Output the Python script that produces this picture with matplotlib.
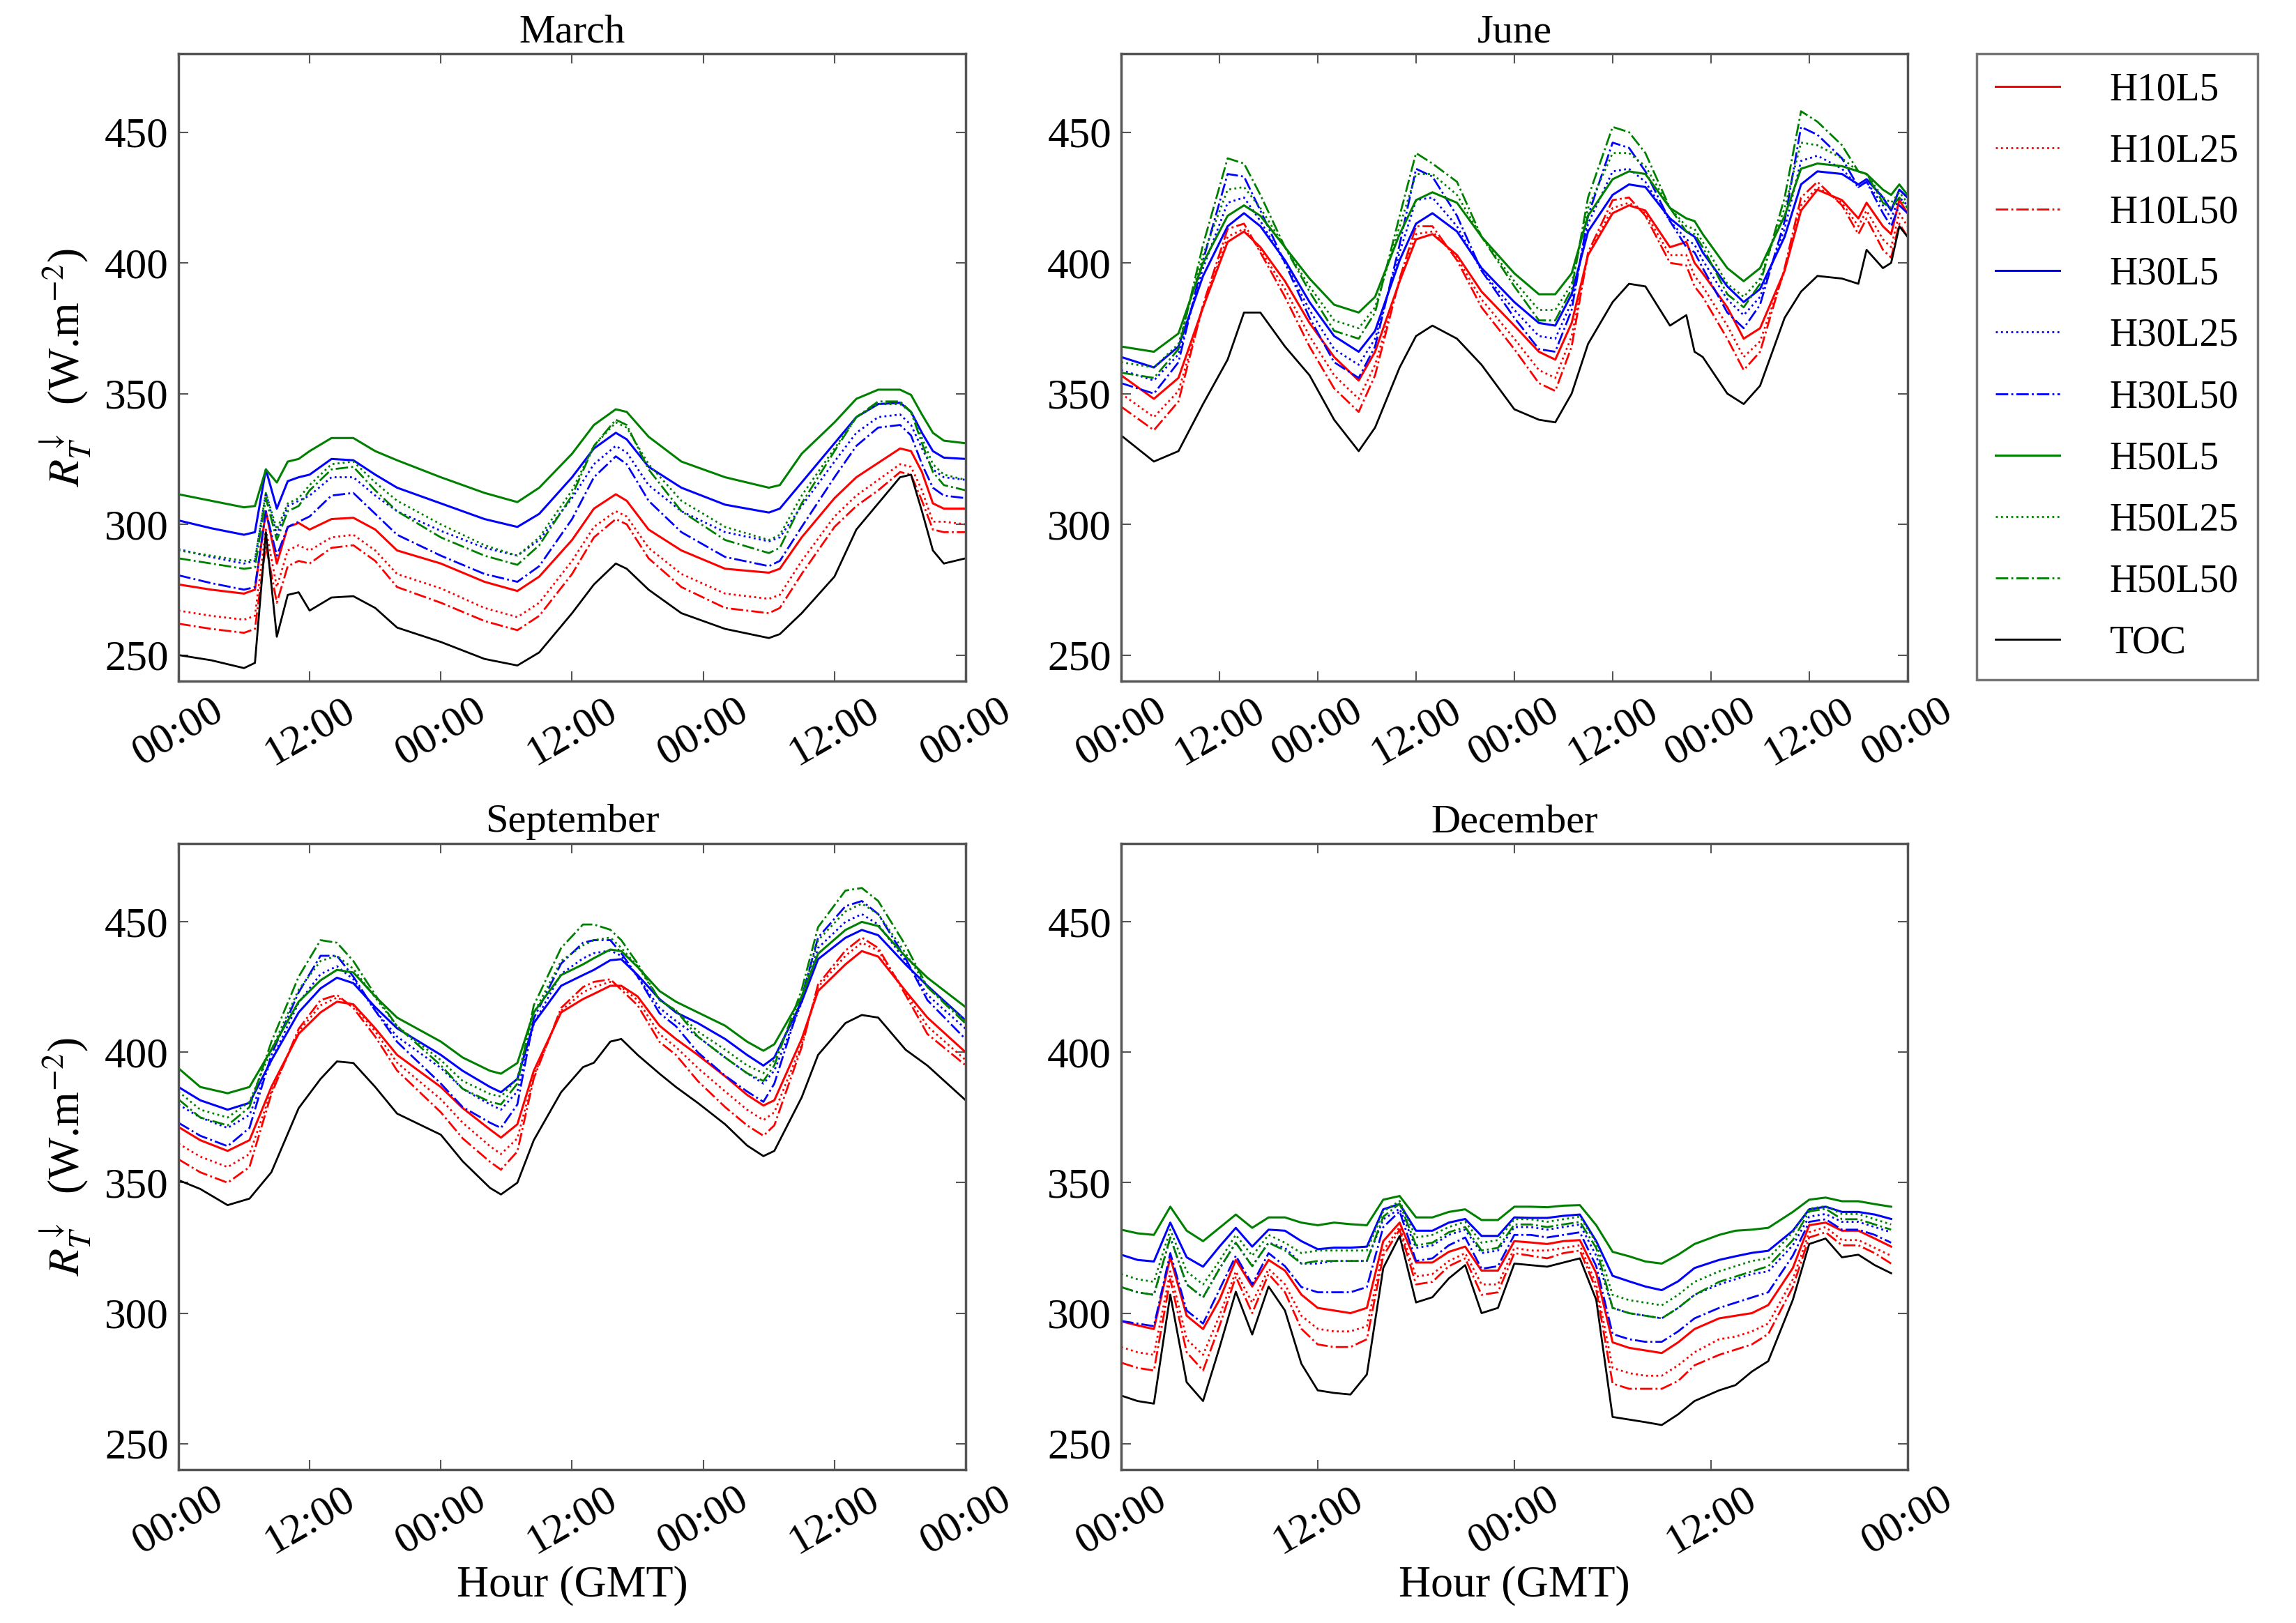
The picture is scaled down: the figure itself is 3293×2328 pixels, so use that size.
import numpy as np
import matplotlib
matplotlib.use("Agg")
import matplotlib.pyplot as plt

plt.rcParams['font.family'] = ['Liberation Serif', 'DejaVu Serif']
plt.rcParams['mathtext.fontset'] = 'stix'

# ---- data (hours since start, W/m2) ----
series_names = ['H10L5', 'H10L25', 'H10L50', 'H30L5', 'H30L25', 'H30L50',
                'H50L5', 'H50L25', 'H50L50', 'TOC']

mar_hours = [0, 3, 6, 7, 8, 9, 10, 11, 12, 14, 16, 18, 20, 24, 28, 31, 33, 36, 38, 40,
             41, 43, 46, 50, 54, 55, 57, 60, 62, 64, 66, 67, 68, 69, 70, 72]
mar_toc = [250, 248, 245, 247, 297, 257, 273, 274, 267, 272, 272.5, 268, 260.5, 255, 248.5, 246, 251, 266, 277, 285,
           283, 275, 266, 260, 256.5, 258, 266, 280, 298, 308, 318, 319, 305, 290, 285, 287]
mar_h10l5 = [277, 275, 273.5, 275, 305, 285, 299, 300.5, 298, 302, 302.5, 298, 290, 285, 278, 274.5, 280, 294, 306, 311.5,
             309, 298, 290, 283, 281.5, 283, 295, 310, 318, 323.5, 329, 328, 320, 308, 306, 306]
mar_h10l25 = [267, 265, 263.5, 265, 298, 276, 290, 292, 290, 295, 296, 290, 281, 275.5, 268, 264.5, 270, 286, 299, 305,
              303, 291, 281, 273.5, 271.5, 273, 286, 303, 311, 317, 323, 322, 313, 301, 301, 300]
mar_h10l50 = [262, 260, 258.5, 260, 292, 270, 284, 286, 285, 291, 292, 286, 276, 270, 263, 259.5, 265, 281, 295, 302,
              300, 287, 276, 268, 266, 268, 281, 299, 307, 313, 320, 319, 309, 298, 297, 297]
mar_h30l5 = [301.5, 298.5, 296, 297, 321, 306, 316.5, 318, 319, 325, 324.5, 319, 314, 308, 302, 299, 304, 318, 329, 335,
             332.5, 322, 314, 307.5, 304.5, 306, 316, 331, 341, 346, 346.5, 343, 335, 328, 325.5, 325]
mar_h30l25 = [290.5, 287.5, 285, 286, 312, 296, 307, 309, 311, 318, 318, 311, 305, 297.5, 291, 288, 294, 310, 323, 330,
              327.5, 315, 305, 297, 293.5, 295, 307, 324, 335, 341, 342, 338, 329, 321, 318, 317]
mar_h30l50 = [280.5, 277.5, 275, 276, 305, 288, 299, 301, 303, 311, 312, 304, 296, 288, 281, 278, 284, 302, 318, 326,
              323, 309, 297, 287.5, 284, 286, 299, 318, 330, 337, 338, 334, 323, 314, 311, 310]
mar_h50l5 = [311.5, 309, 306.5, 307, 321, 316, 324, 325, 328, 333, 333, 328, 324.5, 318, 312, 308.5, 314, 327, 338, 344,
             343, 333.5, 324, 318, 314, 315, 327, 339, 348, 351.5, 351.5, 349.5, 342, 335, 332, 331]
mar_h50l25 = [290, 288, 286, 286.5, 312, 298, 308, 310, 315, 323, 324, 316, 309, 300, 292, 288, 295, 313, 330, 339,
              337, 323, 309, 299, 294, 296, 311, 329, 341, 346, 346, 343, 333, 323, 319, 317]
mar_h50l50 = [287, 285, 283, 283.5, 310, 294, 305, 307, 313, 321, 322, 313, 305, 295, 288, 284.5, 292, 311, 330, 340,
              338, 321, 305, 294, 289, 291, 308, 328, 341, 347, 347, 343, 331, 320, 315, 313]

jun_hours = [0, 4, 7, 10, 13, 15, 17, 20, 23, 26, 29, 31, 34, 36, 38, 41, 44, 48, 51, 53,
             55, 57, 60, 62, 64, 67, 69, 70, 71, 74, 76, 78, 81, 83, 85, 88, 90, 91, 93, 94, 95, 96]
jun_toc = [334, 324, 328, 346, 363, 381, 381, 368, 357, 340, 328, 337, 360, 372, 376, 371, 361, 344, 340, 339,
           350, 369, 385, 392, 391, 376, 380, 366, 364, 350, 346, 353, 379, 389, 395, 394, 392, 405, 398, 400, 414, 410]
jun_h10l5 = [357, 348, 356, 383, 408, 412, 406, 393, 377, 364, 355, 366, 393, 409, 411, 403, 389, 376, 366, 363,
             377, 403, 419, 422, 420, 406, 408, 400, 396, 383, 371, 375, 397, 420, 428, 424, 417, 423, 414, 411, 424, 419]
jun_h10l25 = [350, 341, 351, 383, 410, 413, 405, 390, 372, 357, 348, 361, 393, 411, 412, 402, 386, 371, 359, 356,
              372, 403, 421, 423, 419, 403, 403, 395, 391, 376, 364, 370, 397, 422, 429, 423, 414, 420, 409, 406, 419, 414]
jun_h10l50 = [345, 336, 347, 384, 413, 415, 404, 387, 368, 352, 343, 357, 394, 414, 414, 401, 383, 367, 354, 351,
              368, 404, 424, 425, 418, 400, 399, 391, 387, 371, 359, 366, 398, 425, 431, 422, 411, 417, 405, 402, 415, 410]
jun_h30l5 = [364, 360, 368, 395, 414, 419, 414, 401, 385, 372, 366, 374, 401, 415, 419, 412, 398, 385, 377, 376,
             388, 412, 426, 430, 429, 417, 412, 410, 404, 391, 385, 390, 410, 430, 435, 434, 430, 432, 425, 420, 428, 425]
jun_h30l25 = [359, 355, 365, 398, 423, 425, 416, 400, 382, 367, 361, 371, 404, 424, 425, 414, 397, 382, 372, 371,
              385, 415, 435, 436, 431, 416, 409, 407, 401, 386, 380, 387, 413, 439, 441, 436, 429, 431, 422, 417, 425, 422]
jun_h30l50 = [354, 350, 362, 401, 434, 433, 420, 400, 379, 362, 356, 368, 407, 436, 433, 418, 397, 379, 367, 366,
              382, 418, 446, 444, 435, 416, 406, 404, 398, 381, 375, 384, 416, 452, 449, 440, 429, 431, 419, 414, 422, 419]
jun_h50l5 = [368, 366, 373, 400, 418, 422, 418, 406, 394, 384, 381, 387, 411, 424, 427, 423, 410, 396, 388, 388,
             396, 418, 432, 435, 434, 421, 417, 416, 411, 398, 393, 398, 418, 436, 438, 437, 435, 434, 428, 426, 430, 426]
jun_h50l25 = [362, 360, 369, 403, 428, 429, 421, 406, 391, 378, 375, 383, 414, 434, 434, 426, 410, 393, 382, 382,
              392, 421, 442, 442, 437, 421, 414, 413, 408, 392, 387, 394, 421, 446, 445, 440, 435, 434, 425, 423, 427, 423]
jun_h50l50 = [358, 356, 367, 407, 440, 438, 426, 406, 389, 374, 371, 381, 418, 442, 438, 431, 410, 391, 378, 378,
              390, 425, 452, 450, 442, 421, 412, 411, 406, 388, 383, 392, 425, 458, 454, 445, 435, 434, 423, 421, 425, 421]

sep_hours = [0, 2, 4.5, 6.5, 8.5, 11, 13, 14.5, 16, 18, 20, 24, 26, 28.5, 29.5, 31, 32.5, 35, 37, 38,
             39.5, 40.5, 42, 44, 45.5, 47.5, 50, 52, 53.5, 54.5, 57, 58.5, 61, 62.5, 64, 66.5, 68.5, 72]
sep_toc = [351, 347.6, 341.4, 343.9, 354, 378.6, 389.8, 396.5, 395.9, 386.7, 376.5, 368.4, 358.2, 348, 345.5, 350, 366.3, 384.7, 394.3, 396,
           404.1, 405.1, 399, 391.8, 386.7, 380.6, 372.4, 364.3, 360.2, 362.2, 382.7, 399, 411.2, 414.3, 413.3, 401, 394.9, 381.6]
sep_h10l5 = [371.4, 366.3, 362.2, 366.3, 386.7, 407.1, 415.3, 419.4, 418.4, 409.2, 399, 386.7, 378.6, 370.4, 367.3, 372.4, 392.9, 415.3, 420.4, 422.4,
             425.5, 425.5, 421.4, 410.2, 405.1, 399, 390.8, 383.7, 379.6, 381.6, 405.1, 423.5, 433.7, 438.8, 436.7, 423.5, 413.3, 400]
sep_h10l25 = [365, 360, 356, 361, 385, 408, 418, 421, 418, 408, 396, 382, 373, 364, 361, 367, 391, 416, 423, 425,
              427, 425, 420, 407, 402, 394, 385, 378, 374, 377, 403, 425, 437, 442, 439, 423, 410, 397]
sep_h10l50 = [359, 354, 350, 356, 384, 409, 420, 422, 417, 406, 393, 377, 367, 358, 355, 362, 390, 417, 425, 427,
              428, 424, 418, 404, 399, 389, 379, 372, 368, 372, 402, 426, 439, 444, 440, 422, 407, 395]
sep_h30l5 = [386.7, 381.6, 378, 380.6, 396.9, 415.3, 424.5, 428.6, 426.5, 417.3, 409.2, 399, 392.9, 386.7, 384.7, 389.8, 411.2, 425.5, 429.6, 431.6,
             435.3, 435.7, 429.6, 420.4, 415.3, 411.2, 405.1, 399, 394.9, 398, 419.4, 435.7, 443.9, 446.9, 444.9, 433.7, 425.5, 412.2]
sep_h30l25 = [380, 375, 371, 376, 397, 419, 430, 433, 428, 416, 406, 394, 386, 380, 378, 385, 411, 430, 436, 438,
              439, 437, 429, 417, 412, 406, 398, 392, 388, 393, 419, 440, 450, 453, 449, 435, 422, 409]
sep_h30l50 = [373, 368, 364, 371, 399, 423, 437, 437, 429, 416, 404, 388, 379, 373, 371, 380, 413, 434, 442, 443,
              443, 438, 429, 415, 410, 400, 391, 385, 381, 388, 421, 444, 456, 458, 453, 436, 420, 405]
sep_h50l5 = [393.9, 386.7, 384.3, 386.7, 401, 419.4, 427.6, 431.6, 430.6, 421.4, 413.3, 404.1, 398, 392.9, 391.8, 395.9, 415.3, 429.6, 433.7, 436.1,
             439.4, 438.8, 432.7, 423.5, 419.4, 415.3, 410.2, 404.1, 400.6, 403.1, 421.4, 437.8, 446.9, 450, 448.4, 436.7, 428.6, 417.3]
sep_h50l25 = [385, 378, 375, 381, 401, 424, 435, 437, 432, 421, 410, 397, 389, 384, 383, 390, 415, 435, 441, 443,
              444, 440, 433, 420, 416, 408, 401, 395, 392, 397, 421, 443, 454, 457, 453, 438, 425, 412]
sep_h50l50 = [382, 375, 372, 379, 404, 429, 443, 442, 435, 422, 410, 395, 386, 381, 380, 388, 418, 440, 449, 449,
              447, 443, 434, 420, 416, 406, 398, 392, 389, 395, 424, 448, 462, 463, 458, 441, 425, 411]

dec_hours = [0, 1, 2, 3, 4, 5, 6, 7, 8, 9, 10, 11, 12, 13, 14, 15, 16, 17, 18, 19,
             20, 21, 22, 23, 24, 25, 26, 27, 28, 29, 30, 31, 32, 33, 34, 35, 36.5, 37.5, 38.5, 39.5,
             41, 42, 43, 44, 45, 46, 47]
dec_toc = [268.4, 266.3, 265.3, 307.1, 273.5, 266.3, 286.7, 308.2, 291.8, 310.2, 301, 280.6, 270.4, 269.4, 268.8, 276.5, 317.3, 329.6, 304.1, 306.1,
           313.3, 318.4, 300, 302, 319, 318.4, 317.8, 319.4, 321, 305.1, 260.2, 259.2, 258.2, 257.1, 261.2, 266.3, 270.4, 272.4, 277.6, 281.6,
           305.1, 326.5, 328.6, 321.4, 322.4, 318.4, 315.3]
dec_h10l5 = [296.9, 295.3, 293.9, 321.4, 299, 293.9, 305.1, 320.4, 310.2, 320.4, 316.3, 307.1, 302, 301, 300, 302, 327.6, 334.7, 319.4, 319.4,
             323.5, 325.5, 316.3, 316.3, 327.6, 327.1, 326.5, 327.6, 328, 315.3, 288.8, 286.7, 285.7, 284.7, 288.8, 293.9, 298, 299, 300, 303.1,
             317.3, 333.7, 334.7, 331.6, 331.6, 328.6, 325.5]
dec_h10l25 = [287, 285, 284, 316, 290, 284, 299, 316, 304, 317, 311, 299, 294, 293, 293, 295, 324, 333, 314, 315,
              320, 323, 311, 311, 325, 324, 324, 325, 326, 311, 279, 277, 276, 276, 280, 285, 290, 291, 293, 296,
              313, 331, 333, 328, 328, 325, 322]
dec_h10l50 = [281, 279, 278, 313, 285, 278, 295, 314, 300, 315, 308, 294, 288, 287, 287, 290, 322, 332, 311, 312,
              318, 321, 307, 308, 323, 322, 321, 323, 324, 309, 273, 271, 271, 271, 274, 280, 284, 286, 288, 292,
              310, 329, 331, 326, 326, 323, 319]
dec_h30l5 = [322.4, 320.4, 319.8, 334.7, 321.4, 317.8, 325.5, 332.7, 325.5, 332, 331.6, 327.6, 324.5, 325.1, 325.1, 325.5, 339.8, 341.8, 331.6, 331.6,
             334.7, 336.1, 329.6, 329.6, 336.7, 336.5, 336.5, 337.3, 337.8, 327.6, 314.3, 312.2, 310.2, 308.8, 312.2, 317.3, 320.4, 321.8, 323.1, 323.9,
             331.6, 339.8, 340.8, 338.8, 338.8, 337.8, 336.1]
dec_h30l25 = [310, 308, 307, 329, 311, 306, 317, 327, 318, 327, 325, 319, 319, 320, 320, 320, 336, 340, 325, 326,
              330, 332, 323, 324, 333, 333, 332, 333, 334, 322, 302, 300, 299, 298, 302, 307, 311, 313, 315, 316,
              326, 337, 338, 335, 335, 333, 331]
dec_h30l50 = [297, 296, 295, 323, 301, 296, 309, 322, 311, 323, 318, 310, 308, 308, 308, 310, 333, 339, 320, 321,
              326, 329, 317, 318, 330, 330, 329, 330, 331, 318, 292, 290, 289, 289, 293, 298, 302, 304, 306, 308,
              322, 335, 336, 332, 332, 330, 327]
dec_h50l5 = [332, 330.6, 330, 340.8, 331.6, 327.6, 332.7, 337.8, 332.7, 336.7, 336.7, 334.7, 333.7, 334.7, 334.1, 333.7, 343.5, 344.9, 336.7, 336.7,
             338.8, 339.8, 335.7, 335.7, 340.8, 340.8, 340.6, 341.2, 341.4, 333.7, 323.5, 321.8, 319.8, 319, 322.4, 326.5, 330, 331.6, 332, 332.7,
             338.8, 343.5, 344.3, 342.9, 342.9, 341.8, 340.8]
dec_h50l25 = [315, 313, 312, 332, 316, 311, 320, 330, 322, 330, 327, 323, 324, 324, 324, 324, 339, 343, 329, 330,
              333, 335, 327, 328, 336, 336, 335, 336, 337, 327, 307, 305, 304, 303, 307, 312, 316, 318, 320, 321,
              331, 340, 341, 338, 338, 336, 334]
dec_h50l50 = [310, 308, 307, 329, 311, 306, 317, 327, 318, 327, 324, 319, 320, 320, 320, 320, 337, 342, 326, 327,
              331, 333, 324, 325, 334, 334, 333, 334, 335, 325, 302, 300, 299, 298, 302, 307, 312, 314, 316, 318,
              328, 339, 340, 336, 336, 334, 332]

# style for each series (same order as series_names)
colors = ['r', 'r', 'r', 'b', 'b', 'b', (0, 0.5, 0), (0, 0.5, 0), (0, 0.5, 0), 'k']
styles = ['-', ':', '-.', '-', ':', '-.', '-', ':', '-.', '-']
widths = [2.2, 2.0, 2.0, 2.2, 2.0, 2.0, 2.2, 2.0, 2.0, 2.0]

panels = [
    ('March', mar_hours, 3, [mar_h10l5, mar_h10l25, mar_h10l50, mar_h30l5, mar_h30l25,
                             mar_h30l50, mar_h50l5, mar_h50l25, mar_h50l50, mar_toc]),
    ('June', jun_hours, 4, [jun_h10l5, jun_h10l25, jun_h10l50, jun_h30l5, jun_h30l25,
                            jun_h30l50, jun_h50l5, jun_h50l25, jun_h50l50, jun_toc]),
    ('September', sep_hours, 3, [sep_h10l5, sep_h10l25, sep_h10l50, sep_h30l5, sep_h30l25,
                                 sep_h30l50, sep_h50l5, sep_h50l25, sep_h50l50, sep_toc]),
    ('December', dec_hours, 2, [dec_h10l5, dec_h10l25, dec_h10l50, dec_h30l5, dec_h30l25,
                                dec_h30l50, dec_h50l5, dec_h50l25, dec_h50l50, dec_toc]),
]

# axes rectangles in figure fractions [left, bottom, width, height]
rects = [
    [0.0777, 0.5803, 0.3429, 0.3866],
    [0.4883, 0.5803, 0.3425, 0.3866],
    [0.0777, 0.0945, 0.3429, 0.3857],
    [0.4883, 0.0945, 0.3425, 0.3857],
]

fig = plt.figure(figsize=(32.93, 23.28), dpi=100)
frame_col = '#555555'
handles = []

for i, (title, hours, ndays, data) in enumerate(panels):
    ax = fig.add_axes(rects[i])
    for j, vals in enumerate(data):
        ln, = ax.plot(hours, vals, color=colors[j], linestyle=styles[j],
                      linewidth=widths[j], label=series_names[j])
        if i == 0:
            handles.append(ln)
    ax.set_xlim(0, 24 * ndays)
    ax.set_ylim(240, 480)
    ax.set_yticks([250, 300, 350, 400, 450])
    ticks = np.arange(0, 24 * ndays + 1, 12)
    ax.set_xticks(ticks)
    ax.set_xticklabels(['00:00' if t % 24 == 0 else '12:00' for t in ticks],
                       rotation=30, ha='center')
    ax.tick_params(direction='in', top=True, right=True, length=10, width=1.5,
                   color=frame_col, labelsize=44, pad=10)
    for sp in ax.spines.values():
        sp.set_color(frame_col)
        sp.set_linewidth(2.5)
    ax.set_title(title, fontsize=42, pad=12)
    if i % 2 == 0:
        ax.set_ylabel(r'$R_T^{\downarrow}$  (W.m$^{-2}$)', fontsize=46, labelpad=12)
    if i >= 2:
        ax.set_xlabel('Hour (GMT)', fontsize=46, labelpad=4)

leg = fig.legend(handles, series_names, loc='upper left', bbox_to_anchor=(0.861, 0.967),
                 borderaxespad=0, fontsize=40, frameon=True, fancybox=False,
                 handlelength=1.65, handletextpad=1.3, labelspacing=0.65, borderpad=0.48)
leg.get_frame().set_edgecolor(frame_col)
leg.get_frame().set_linewidth(2.5)

fig.savefig('out.png', dpi=100)
